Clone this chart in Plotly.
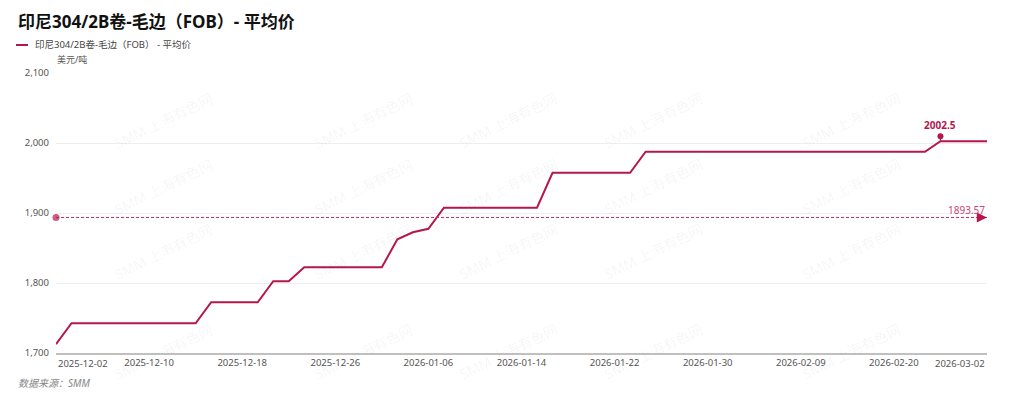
import numpy as np
import plotly.graph_objects as go

dates = [
    "2025-12-02", "2025-12-03", "2025-12-04", "2025-12-05", "2025-12-08", "2025-12-09",
    "2025-12-10", "2025-12-11", "2025-12-12", "2025-12-15", "2025-12-16", "2025-12-17",
    "2025-12-18", "2025-12-19", "2025-12-22", "2025-12-23", "2025-12-24", "2025-12-25",
    "2025-12-26", "2025-12-29", "2025-12-30", "2025-12-31", "2026-01-04", "2026-01-05",
    "2026-01-06", "2026-01-07", "2026-01-08", "2026-01-09", "2026-01-12", "2026-01-13",
    "2026-01-14", "2026-01-15", "2026-01-16", "2026-01-19", "2026-01-20", "2026-01-21",
    "2026-01-22", "2026-01-23", "2026-01-26", "2026-01-27", "2026-01-28", "2026-01-29",
    "2026-01-30", "2026-02-02", "2026-02-03", "2026-02-04", "2026-02-05", "2026-02-06",
    "2026-02-09", "2026-02-10", "2026-02-11", "2026-02-12", "2026-02-13", "2026-02-14",
    "2026-02-20", "2026-02-23", "2026-02-24", "2026-02-25", "2026-02-26", "2026-02-27",
    "2026-03-02",
]
prices = [
    1712.5, 1742.5, 1742.5, 1742.5, 1742.5, 1742.5,
    1742.5, 1742.5, 1742.5, 1742.5, 1772.5, 1772.5,
    1772.5, 1772.5, 1802.5, 1802.5, 1822.5, 1822.5,
    1822.5, 1822.5, 1822.5, 1822.5, 1862.5, 1872.5,
    1877.5, 1907.5, 1907.5, 1907.5, 1907.5, 1907.5,
    1907.5, 1907.5, 1957.5, 1957.5, 1957.5, 1957.5,
    1957.5, 1957.5, 1987.5, 1987.5, 1987.5, 1987.5,
    1987.5, 1987.5, 1987.5, 1987.5, 1987.5, 1987.5,
    1987.5, 1987.5, 1987.5, 1987.5, 1987.5, 1987.5,
    1987.5, 1987.5, 1987.5, 2002.5, 2002.5, 2002.5,
    2002.5,
]
tick_dates = ["2025-12-02", "2025-12-10", "2025-12-18", "2025-12-26", "2026-01-06",
              "2026-01-14", "2026-01-22", "2026-01-30", "2026-02-09", "2026-02-20",
              "2026-03-02"]
y_ticks = [1700, 1800, 1900, 2000, 2100]

title = "印尼304/2B卷-毛边（FOB）- 平均价"
series_name = "印尼304/2B卷-毛边（FOB） - 平均价"
unit = "美元/吨"
source = "数据来源：SMM"
watermark = "SMM 上海有色网"

LINE = "#b5174d"
AVG = "#d0306a"
AVG_TXT = "#cc4470"
FONT = "Noto Sans, Noto Sans CJK SC, sans-serif"

avg = float(np.mean(prices))
imax = int(np.argmax(prices))

W, H = 1024, 399
L, R, T, B = 56, 37, 73, 46
pw, ph = W - L - R, H - T - B

fig = go.Figure()
fig.add_trace(go.Scatter(
    x=dates, y=prices, mode="lines", name=series_name,
    line=dict(color=LINE, width=2), showlegend=False, hoverinfo="x+y",
))
fig.add_trace(go.Scatter(
    x=[dates[0], dates[-1]], y=[avg, avg], mode="lines+markers",
    line=dict(color=AVG, width=1.1, dash="3px,2px"),
    marker=dict(size=[7, 0], color=LINE, line=dict(width=0)),
    showlegend=False, hoverinfo="skip", cliponaxis=False,
))

def fig_paper(px, py):
    return (px - L) / pw, (H - B - py) / ph

annotations = []
# average arrow head
annotations.append(dict(
    x=dates[-1], y=avg, xref="x", yref="y", text="", showarrow=True,
    arrowhead=2, arrowsize=1.7, arrowwidth=1.2, arrowcolor=LINE,
    ax=-10, ay=0, standoff=0,
))
annotations.append(dict(
    x=dates[-1], y=avg, xref="x", yref="y", text=f"{avg:.2f}", showarrow=False,
    xanchor="right", yanchor="bottom", yshift=-1,
    font=dict(family=FONT, size=10, color=AVG_TXT),
))
# max point label
annotations.append(dict(
    x=dates[imax], y=prices[imax], xref="x", yref="y", text=f"<b>{prices[imax]}</b>",
    showarrow=False, yanchor="bottom", yshift=7, font=dict(family=FONT, size=10, color=LINE),
))
# edge tick labels
tick_font = dict(family=FONT, size=9.5, color="#555555")
annotations.append(dict(
    x=tick_dates[0], y=0, xref="x", yref="paper", text=tick_dates[0], showarrow=False,
    xanchor="left", yanchor="top", yshift=-2, font=tick_font,
))
annotations.append(dict(
    x=tick_dates[-1], y=0, xref="x", yref="paper", text=tick_dates[-1], showarrow=False,
    xanchor="right", yanchor="top", yshift=-2, font=tick_font,
))
# title, legend, unit, source
for px, py, txt, fnt in [
    (16, 21, f"<b>{title}</b>", dict(family=FONT, size=17, color="#111111")),
    (33, 45, series_name, dict(family=FONT, size=9.5, color="#444444")),
    (55, 60, unit, dict(family=FONT, size=9, color="#555555")),
    (16, 383, f"<i>{source}</i>", dict(family=FONT, size=10, color="#888888")),
]:
    ax_, ay_ = fig_paper(px, py)
    annotations.append(dict(
        x=ax_, y=ay_, xref="paper", yref="paper", text=txt, showarrow=False,
        xanchor="left", yanchor="middle", font=fnt,
    ))

# watermarks
for wy in [86, 186, 286, 386]:
    for wx in [109, 309, 508, 708, 906]:
        ax_, ay_ = fig_paper(wx, wy)
        annotations.append(dict(
            x=ax_, y=ay_, xref="paper", yref="paper",
            text=watermark, showarrow=False, textangle=-26,
            font=dict(family=FONT, size=14, color="rgba(0,0,0,0.05)"),
        ))

lx0, ly = fig_paper(16, 45)
lx1, _ = fig_paper(28, 45)
shapes = [
    dict(type="line", xref="paper", yref="paper", x0=lx0, x1=lx1, y0=ly, y1=ly,
         line=dict(color=LINE, width=2)),
    # pin for max point
    dict(type="line", xref="x", yref="y", xsizemode="pixel", ysizemode="pixel",
         xanchor=imax, yanchor=prices[imax], x0=0, x1=0, y0=0, y1=5,
         line=dict(color=LINE, width=1.2)),
    dict(type="circle", xref="x", yref="y", xsizemode="pixel", ysizemode="pixel",
         xanchor=imax, yanchor=prices[imax], x0=-3, x1=3, y0=2, y1=8,
         fillcolor=LINE, line=dict(width=0)),
]

fig.update_layout(
    width=W, height=H,
    margin=dict(l=L, r=R, t=T, b=B),
    paper_bgcolor="white", plot_bgcolor="white",
    font=dict(family=FONT),
    showlegend=False,
    annotations=annotations,
    shapes=shapes,
    xaxis=dict(
        type="category", range=[0, len(dates) - 1],
        tickmode="array", tickvals=tick_dates[1:-1], ticktext=tick_dates[1:-1],
        tickfont=tick_font, showgrid=False, showline=True, linecolor="#c0c0c0",
        linewidth=1.5, ticks="", zeroline=False,
    ),
    yaxis=dict(
        range=[1700, 2100], tickmode="array", tickvals=y_ticks,
        tickformat=",", tickfont=tick_font, showgrid=True, gridcolor="#eeeeee",
        gridwidth=1, zeroline=False, showline=False, ticks="", ticklabelstandoff=6,
    ),
)

fig.write_html("out.html")
